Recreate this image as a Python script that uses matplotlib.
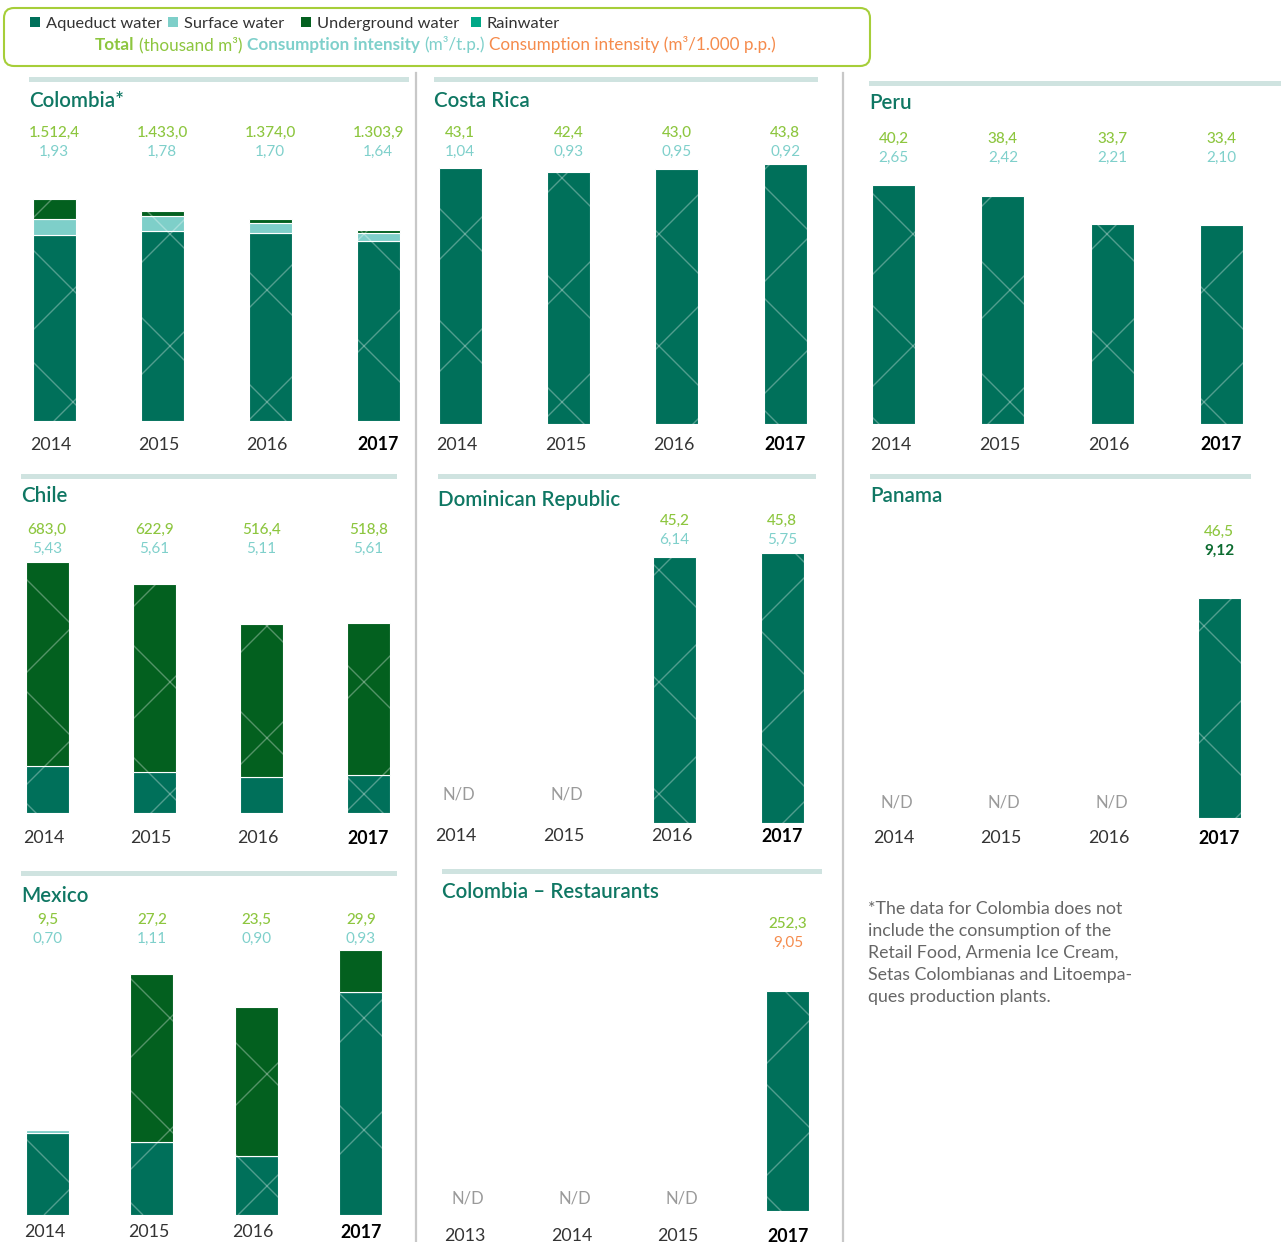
import matplotlib.pyplot as plt
import numpy as np
from matplotlib.patches import FancyBboxPatch, Rectangle
from matplotlib.lines import Line2D
from matplotlib.transforms import IdentityTransform, blended_transform_factory

plt.rcParams['font.family'] = ['Lato', 'DejaVu Sans']

W, H = 1281, 1242
fig = plt.figure(figsize=(W / 100, H / 100), dpi=100)

AQ = '#00705a'
SURF = '#7ecfc9'
UNDER = '#03601f'
RAIN = '#00a887'
GREEN = '#8dc63f'
TEAL = '#7fd0cb'
ORANGE = '#f58b4c'
DKGREEN = '#0b6b2f'
TITLE = '#0f7763'
RULE = '#cfe3e0'
ND = '#9a9a9a'

# ---- data (thousand m3 / intensity) ----
years = ['2014', '2015', '2016', '2017']
years_rest = ['2013', '2014', '2015', '2017']

col_total = [1512.4, 1433.0, 1374.0, 1303.9]
col_aq = [1270, 1296, 1279, 1230]
col_surf = [105, 98, 68, 52]
col_under = [137.4, 39, 27, 21.9]
col_int = [1.93, 1.78, 1.70, 1.64]

cr_total = [43.1, 42.4, 43.0, 43.8]
cr_int = [1.04, 0.93, 0.95, 0.92]

pe_total = [40.2, 38.4, 33.7, 33.4]
pe_int = [2.65, 2.42, 2.21, 2.10]

ch_total = [683.0, 622.9, 516.4, 518.8]
ch_aq = [128, 113, 100, 104]
ch_under = [555.0, 509.9, 416.4, 414.8]
ch_int = [5.43, 5.61, 5.11, 5.61]

do_total = [None, None, 45.2, 45.8]
do_int = [None, None, 6.14, 5.75]

pa_total = [None, None, None, 46.5]
pa_int = [None, None, None, 9.12]

mx_total = [9.5, 27.2, 23.5, 29.9]
mx_aq = [9.2, 8.2, 6.6, 25.1]
mx_surf = [0.3, 0, 0, 0]
mx_under = [0, 19.0, 16.9, 4.8]
mx_int = [0.70, 1.11, 0.90, 0.93]

re_total = [None, None, None, 252.3]
re_int = [None, None, None, 9.05]


def fmt(v, d):
    s = f"{v:,.{d}f}"
    return s.replace(',', 'X').replace('.', ',').replace('X', '.')


def fy(y):
    return 1 - y / H


def rule(x0, x1, y0, y1):
    fig.add_artist(Rectangle((x0, H - y1), x1 - x0, y1 - y0, transform=IdentityTransform(),
                             color=RULE, lw=0))


def texture(bars, cols):
    # pale diagonal lattice over each bar, clipped to the bar outline
    step = 112
    for r, col in zip(bars, cols):
        bb = r.get_window_extent()
        if bb.height <= 0:
            continue
        ph = (col * 41 + 17) % step
        for sign in (1, -1):
            lo = (bb.x0 - bb.y1) if sign == 1 else (bb.x0 + bb.y0)
            hi = (bb.x1 - bb.y0) if sign == 1 else (bb.x1 + bb.y1)
            start = np.floor((lo - ph) / step) * step + ph
            for c in np.arange(start, hi + step, step):
                ys = np.array([bb.y0, bb.y1])
                xs = c + sign * ys
                ln = Line2D(xs, ys, transform=IdentityTransform(), color='white',
                            alpha=0.32, lw=1.0)
                ln.set_clip_path(r)
                fig.add_artist(ln)


def panel(left, right, base, scale, title, tx, ty, labels, val_y, year_y,
          totals, second, second_color, nd_y=None, stacks=None, second_weight='normal'):
    top = base - 360
    ax = fig.add_axes([left / W, fy(base), (right - left) / W, (base - top) / H])
    ax.set_xlim(-0.5, 3.5)
    ax.set_ylim(0, (base - top) / scale)
    ax.axis('off')
    x = np.arange(4)
    bw = 43 / ((right - left) / 4)
    if stacks is None:
        vals = [v if v is not None else 0 for v in totals]
        stacks = [(vals, AQ)]
    bottom = np.zeros(4)
    for vals, color in stacks:
        vals = np.array(vals, dtype=float)
        bars = ax.bar(x, vals, bw, bottom=bottom, color=color, edgecolor='white', lw=0.8)
        texture([b for b, v in zip(bars, vals) if v > 0], [i for i, v in zip(x, vals) if v > 0])
        bottom += vals
    tr = blended_transform_factory(ax.transData, fig.transFigure)
    fig.text(tx / W, fy(ty + 2), title, color=TITLE, fontsize=14.8, fontweight='semibold',
             ha='left', va='center')
    for i in range(4):
        if totals[i] is None:
            if nd_y is not None:
                ax.text(i, fy(nd_y + 2), 'N/D', transform=tr, ha='center', va='center',
                        color=ND, fontsize=12)
        else:
            ax.text(i, fy(val_y + 2), fmt(totals[i], 1), transform=tr, ha='center',
                    va='center', color=GREEN, fontsize=11, fontweight='medium')
            ax.text(i, fy(val_y + 21), fmt(second[i], 2), transform=tr, ha='center',
                    va='center', color=second_color, fontsize=11, fontweight=second_weight)
        bold = labels[i] == '2017'
        ax.text(i if bold else i - 0.03, fy(year_y + 2), labels[i], transform=tr,
                ha='center', va='center', color='black' if bold else '#333333',
                fontsize=12.8, fontweight='bold' if bold else 'normal')
    return ax


# top row
rule(29, 409, 77, 82)
panel(0, 432, 420.7, 0.1465, 'Colombia*', 29, 99, years, 131, 443, col_total, col_int, TEAL,
      stacks=[(col_aq, AQ), (col_surf, SURF), (col_under, UNDER)])
rule(434, 818, 77, 82)
panel(406, 839.5, 424, 5.94, 'Costa Rica', 434, 99, years, 131, 443, cr_total, cr_int, TEAL)
rule(869, 1281, 81, 86)
panel(839, 1276, 424, 5.945, 'Peru', 869, 101, years, 137, 443, pe_total, pe_int, TEAL)

# middle row
rule(21, 397, 474, 479)
panel(-6.5, 422, 813.3, 0.3675, 'Chile', 21, 494, years, 528, 836, ch_total, ch_int, TEAL,
      stacks=[(ch_aq, AQ), (ch_under, UNDER)])
rule(438, 816, 474, 479)
panel(405.5, 836, 823, 5.89, 'Dominican Republic', 438, 498, years, 519, 834, do_total, do_int,
      TEAL, nd_y=793)
rule(870, 1251, 474, 479)
panel(843, 1273, 818, 4.73, 'Panama', 870, 494, years, 530, 836, pa_total, pa_int, DKGREEN,
      nd_y=800, second_weight='bold')

# bottom row
rule(21, 397, 871, 876)
panel(-4.75, 413, 1214.5, 8.85, 'Mexico', 21, 894, years, 918, 1230, mx_total, mx_int, TEAL,
      stacks=[(mx_aq, AQ), (mx_surf, SURF), (mx_under, UNDER)])
rule(442, 822, 869, 874)
panel(414.7, 841.3, 1211, 0.872, 'Colombia – Restaurants', 442, 890, years_rest, 922, 1234,
      re_total, re_int, ORANGE, nd_y=1196)

# column separators
for sx in (416, 843):
    fig.add_artist(Line2D([sx, sx], [0, H - 73], transform=IdentityTransform(),
                          color='#c8c8c8', lw=1.6))

# footnote
fig.text(868 / W, fy(901), "*The data for Colombia does not\ninclude the consumption of the\n"
         "Retail Food, Armenia Ice Cream,\nSetas Colombianas and Litoempa-\n"
         "ques production plants.", ha='left', va='top', color='#666666', fontsize=12.8,
         linespacing=1.46)

# legend box
fig.add_artist(FancyBboxPatch((4, H - 66), 866, 58, boxstyle='round,pad=0,rounding_size=10',
                              transform=IdentityTransform(), fc='none', ec='#a6ce39', lw=1.5))
for sx, lab, c in [(30, 'Aqueduct water', AQ), (168, 'Surface water', SURF),
                   (301, 'Underground water', UNDER), (471, 'Rainwater', RAIN)]:
    fig.add_artist(Rectangle((sx, H - 27), 10, 10, transform=IdentityTransform(), color=c, lw=0))
    fig.text((sx + 16) / W, fy(24), lab, ha='left', va='center', color='#333333', fontsize=11.8)

renderer = fig.canvas.get_renderer()
xpos = 95
for txt, c, wgt in [('Total', GREEN, 'bold'), ('(thousand m³)', GREEN, 'normal'),
                    ('Consumption intensity', TEAL, 'bold'), ('(m³/t.p.)', TEAL, 'normal'),
                    ('Consumption intensity (m³/1.000 p.p.)', ORANGE, 'normal')]:
    t = fig.text(xpos / W, fy(50), txt, ha='left', va='baseline', color=c, fontsize=12.3,
                 fontweight=wgt)
    xpos += t.get_window_extent(renderer).width + 4.5

fig.savefig('out.png', dpi=100)
